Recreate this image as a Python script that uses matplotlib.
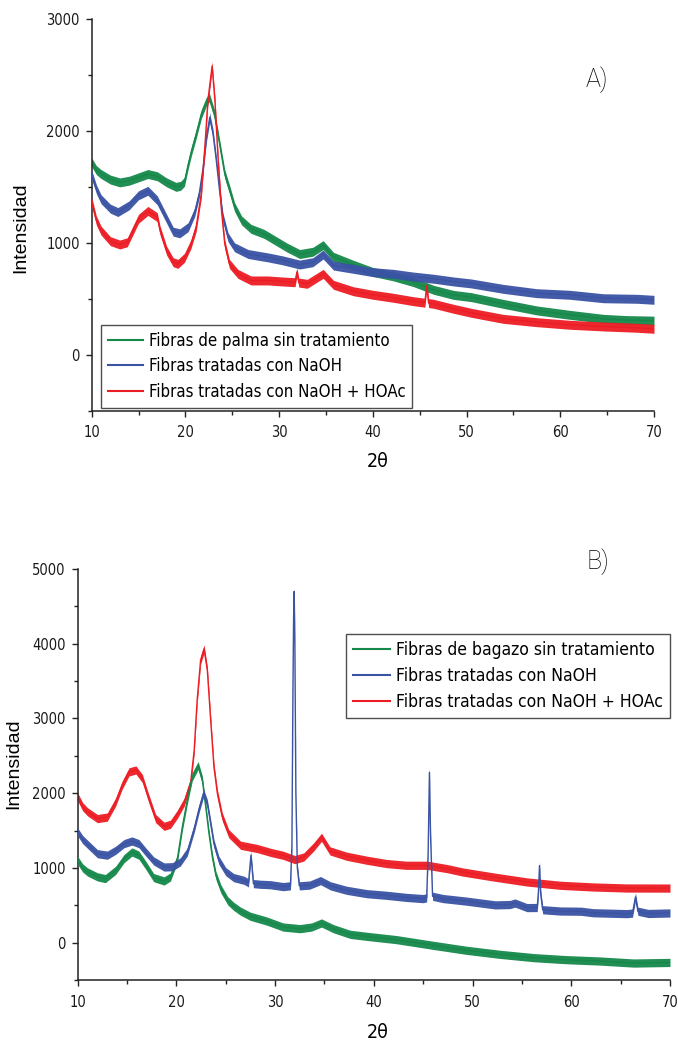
import matplotlib
matplotlib.use("Agg")
import matplotlib.pyplot as plt
from matplotlib.ticker import MultipleLocator

# ---------------- Panel A: fibras de palma ----------------
palma_sin_x = [10, 10.5, 11, 12, 13, 14, 15, 16, 17, 18, 19, 19.5, 19.9, 20.3, 20.65,
               21.15, 21.7, 22.2, 22.55, 23.1, 23.65, 24.2, 24.75, 25.25, 26, 27,
               28.4, 29.9, 30.8, 32.2, 33.6, 34.7, 35.8, 37.9, 40, 42.2, 44.3, 46.5,
               48.6, 50.5, 53.9, 57.5, 61, 64.6, 67, 70]
palma_sin_y = [1720, 1650, 1615, 1565, 1540, 1555, 1585, 1615, 1595, 1540, 1500, 1510, 1545,
               1700, 1820, 1970, 2150, 2255, 2300, 2150, 1885, 1615, 1465, 1320, 1200,
               1125, 1080, 1005, 960, 900, 920, 980, 875, 805, 740, 700, 650, 580,
               535, 515, 455, 396, 357, 321, 310, 305]

palma_naoh_x = [10, 10.5, 11, 12, 12.8, 14, 15, 16, 17, 18, 18.7, 19.4, 20.3, 21, 21.5,
                21.9, 22.25, 22.6, 22.95, 23.3, 23.65, 24, 24.55, 25.25, 26.7, 28.8,
                30.3, 32.2, 33.6, 34.7, 35.8, 37.9, 40, 42.2, 44.3, 46.5, 48.6, 50.5,
                53.9, 57.5, 61, 64.6, 68.2, 70]
palma_naoh_y = [1610, 1480, 1390, 1305, 1275, 1335, 1425, 1465, 1380, 1215, 1100, 1085,
                1140, 1275, 1450, 1675, 1945, 2120, 1975, 1735, 1465, 1230, 1050, 960,
                900, 870, 845, 806, 827, 896, 797, 768, 738, 723, 699, 679, 655, 637,
                589, 550, 536, 505, 500, 491]

palma_hoac_x = [10, 10.5, 11, 12, 13, 13.8, 15, 16, 17, 17.3, 18, 18.7, 19.2, 19.9, 20.6,
                21.15, 21.7, 22.05, 22.4, 22.85, 23.15, 23.5, 23.85, 24.2, 24.7, 25.6,
                27, 28.8, 30.3, 31.7, 31.9, 32.1, 33, 34.7, 35.8, 37.9, 40, 42.2, 44.3,
                45.55, 45.75, 45.95, 46.5, 48.6, 50.5, 53.9, 57.5, 61, 64.6, 68.2, 70]
palma_hoac_y = [1370, 1200, 1110, 1015, 985, 1005, 1215, 1285, 1230, 1110, 930, 827, 812,
                866, 990, 1140, 1440, 1825, 2270, 2580, 2270, 1735, 1290, 990, 812, 723,
                664, 664, 655, 648, 740, 645, 634, 723, 625, 568, 536, 509, 479,
                465, 619, 462, 455, 411, 375, 321, 291, 268, 253, 241, 232]

labels_a = ["Fibras de palma sin tratamiento",
            "Fibras tratadas con NaOH",
            "Fibras tratadas con NaOH + HOAc"]

# ---------------- Panel B: fibras de bagazo ----------------
bagazo_sin_x = [10, 10.5, 11, 12, 12.8, 13.85, 14.7, 15.5, 16.2, 16.9, 17.7, 18.75, 19.4,
                20.1, 20.6, 21.1, 21.6, 22.2, 22.63, 22.97, 23.3, 23.64, 24.0, 24.5,
                25.2, 25.8, 26.5, 27.5, 29.15, 30.8, 32.5, 33.7, 34.7, 35.9, 37.6, 39.3,
                42.3, 46, 49.4, 52.8, 56.2, 59.5, 62.9, 66.3, 70]
bagazo_sin_y = [1100, 1000, 945, 880, 857, 968, 1125, 1213, 1170, 1035, 870, 825, 879,
                1125, 1548, 1905, 2217, 2370, 2173, 1816, 1459, 1146, 900, 720,
                560, 486, 420, 352, 289, 209, 187, 209, 263, 187, 111, 84,
                40, -36, -103, -157, -201, -228, -246, -273, -265]

bagazo_naoh_x = [10, 10.5, 11, 12, 13, 13.85, 14.7, 15.5, 16.2, 16.9, 17.7, 18.75, 19.6,
                 20.4, 21.1, 21.8, 22.3, 22.75, 23.13, 23.47, 23.8, 24.3, 25.0, 25.8,
                 26.85, 27.3, 27.55, 27.8, 28.5, 29.5, 30.8, 31.55, 31.7, 31.8, 31.87,
                 31.93, 32.0, 32.1, 32.25, 32.45, 33.5, 34.6, 35.6, 37.25, 39.3, 41.3,
                 43.3, 45.0, 45.35, 45.5, 45.63, 45.75, 45.95, 47, 49.4, 52.3, 53.8,
                 54.3, 55.5, 56.55, 56.68, 56.78, 56.9, 57.1, 58.9, 61, 62.2, 65.6,
                 66.2, 66.5, 66.75, 67.8, 70]
bagazo_naoh_y = [1480, 1380, 1316, 1190, 1170, 1236, 1325, 1360, 1325, 1213, 1093, 1012,
                 1016, 1080, 1213, 1526, 1794, 2000, 1861, 1593, 1325, 1102, 950, 870,
                 834, 800, 1170, 790, 781, 775, 750, 760, 1300, 3300, 4350,
                 4700, 4000, 2000, 1000, 760, 770, 830, 760, 700, 655, 633,
                 605, 589, 600, 1200, 2280, 1400, 620, 590, 555, 505, 510,
                 530, 469, 470, 700, 1030, 650, 440, 423, 420, 400, 388,
                 395, 610, 420, 390, 397]

bagazo_hoac_x = [10, 10.5, 11, 12, 13, 13.85, 14.5, 15.2, 15.9, 16.55, 17.2, 17.9, 18.75,
                 19.4, 20.1, 20.8, 21.45, 21.8, 22.1, 22.45, 22.8, 23.13, 23.47, 23.8,
                 24.15, 24.65, 25.3, 26.5, 28.2, 29.55, 30.8, 32.0, 32.9, 33.9, 34.7,
                 35.56, 37.25, 39.3, 41.3, 43.3, 45.4, 47.4, 49, 52.1, 55.5, 58.9,
                 62.2, 65.6, 70]
bagazo_hoac_y = [1950, 1820, 1750, 1660, 1680, 1883, 2106, 2285, 2310, 2196, 1928, 1660,
                 1557, 1584, 1718, 1883, 2151, 2575, 3244, 3780, 3930, 3646, 2977, 2351,
                 1995, 1682, 1459, 1303, 1259, 1207, 1169, 1111, 1146, 1280, 1410,
                 1227, 1156, 1102, 1058, 1035, 1035, 991, 945, 879, 812, 767,
                 745, 731, 730]

labels_b = ["Fibras de bagazo sin tratamiento",
            "Fibras tratadas con NaOH",
            "Fibras tratadas con NaOH + HOAc"]

# half-width of the counting-noise band around each trace (intensity units)
noise_a = 40
noise_b = 55

GREEN = "#15884a"
BLUE = "#3a53a4"
RED = "#ec1c24"

plt.rcParams["font.family"] = ["DejaVu Sans"]
plt.rcParams["font.stretch"] = "condensed"

fig = plt.figure(figsize=(6.78, 10.43), dpi=100)
ax_a = fig.add_axes([0.1352, 0.6062, 0.8294, 0.3756])
ax_b = fig.add_axes([0.1146, 0.0604, 0.8736, 0.3941])

LABEL_FONT = dict(family=["Liberation Sans", "DejaVu Sans"], stretch="normal")
PANEL_FONT = dict(family=["Roboto", "DejaVu Sans"], fontweight="light",
                  stretch="normal", color="black", fontsize=18)


def trace(ax, x, y, band, color, label, z):
    lo = [v - band for v in y]
    hi = [v + band for v in y]
    ax.fill_between(x, lo, hi, color=color, lw=0, alpha=0.95, zorder=z)
    ax.plot(x, y, color=color, lw=1.0, zorder=z + 0.1, label=label)


def style(ax, ylo, yhi, ymajor):
    ax.set_xlim(10, 70)
    ax.set_ylim(ylo, yhi)
    ax.xaxis.set_major_locator(MultipleLocator(10))
    ax.xaxis.set_minor_locator(MultipleLocator(5))
    ax.yaxis.set_major_locator(MultipleLocator(ymajor))
    ax.yaxis.set_minor_locator(MultipleLocator(ymajor / 2))
    for side in ("top", "right"):
        ax.spines[side].set_visible(False)
    for side in ("left", "bottom"):
        ax.spines[side].set_linewidth(1.1)
        ax.spines[side].set_color("#222222")
    ax.tick_params(which="major", direction="out", length=4.5, width=1.0,
                   color="#222222", labelsize=10.5, labelcolor="#1a1a1a")
    ax.tick_params(which="minor", direction="out", length=3, width=1.0,
                   color="#222222")
    ax.tick_params(axis="x", which="major", pad=6)
    ax.tick_params(axis="y", which="major", pad=4)


def legend(ax, labels, anchor, loc, size):
    handles, labs = ax.get_legend_handles_labels()
    order = [labs.index(l) for l in labels]
    leg = ax.legend([handles[i] for i in order], [labs[i] for i in order],
                    loc=loc, bbox_to_anchor=anchor, fontsize=size,
                    frameon=True, fancybox=False, borderaxespad=0, borderpad=0.4,
                    handlelength=2.1, handletextpad=0.35, labelspacing=0.45)
    leg.get_frame().set_edgecolor("#222222")
    leg.get_frame().set_linewidth(1.0)
    for line in leg.get_lines():
        line.set_linewidth(1.5)
    return leg


# Panel A
trace(ax_a, palma_sin_x, palma_sin_y, noise_a, GREEN, labels_a[0], 2)
trace(ax_a, palma_naoh_x, palma_naoh_y, noise_a, BLUE, labels_a[1], 3)
trace(ax_a, palma_hoac_x, palma_hoac_y, noise_a, RED, labels_a[2], 4)
style(ax_a, -500, 3000, 1000)
ax_a.set_ylabel("Intensidad", fontsize=14, va="center", **LABEL_FONT)
ax_a.yaxis.set_label_coords(-0.1257, 0.468)
ax_a.set_xlabel("2θ", fontsize=14, va="center")
ax_a.xaxis.set_label_coords(0.508, -0.130)
legend(ax_a, labels_a, (0.0165, 0.219), "upper left", 12.1)
fig.text(0.8805, 0.9233, "A)", ha="center", va="center", **PANEL_FONT)

# Panel B
trace(ax_b, bagazo_hoac_x, bagazo_hoac_y, noise_b, RED, labels_b[2], 2)
trace(ax_b, bagazo_sin_x, bagazo_sin_y, noise_b, GREEN, labels_b[0], 3)
trace(ax_b, bagazo_naoh_x, bagazo_naoh_y, noise_b, BLUE, labels_b[1], 4)
style(ax_b, -500, 5000, 1000)
ax_b.set_ylabel("Intensidad", fontsize=14, va="center", **LABEL_FONT)
ax_b.yaxis.set_label_coords(-0.1084, 0.526)
ax_b.set_xlabel("2θ", fontsize=14, va="center")
ax_b.xaxis.set_label_coords(0.507, -0.128)
legend(ax_b, labels_b, (1.0, 0.842), "upper right", 12.6)
fig.text(0.882, 0.4612, "B)", ha="center", va="center", **PANEL_FONT)

fig.savefig("out.png", dpi=100)
